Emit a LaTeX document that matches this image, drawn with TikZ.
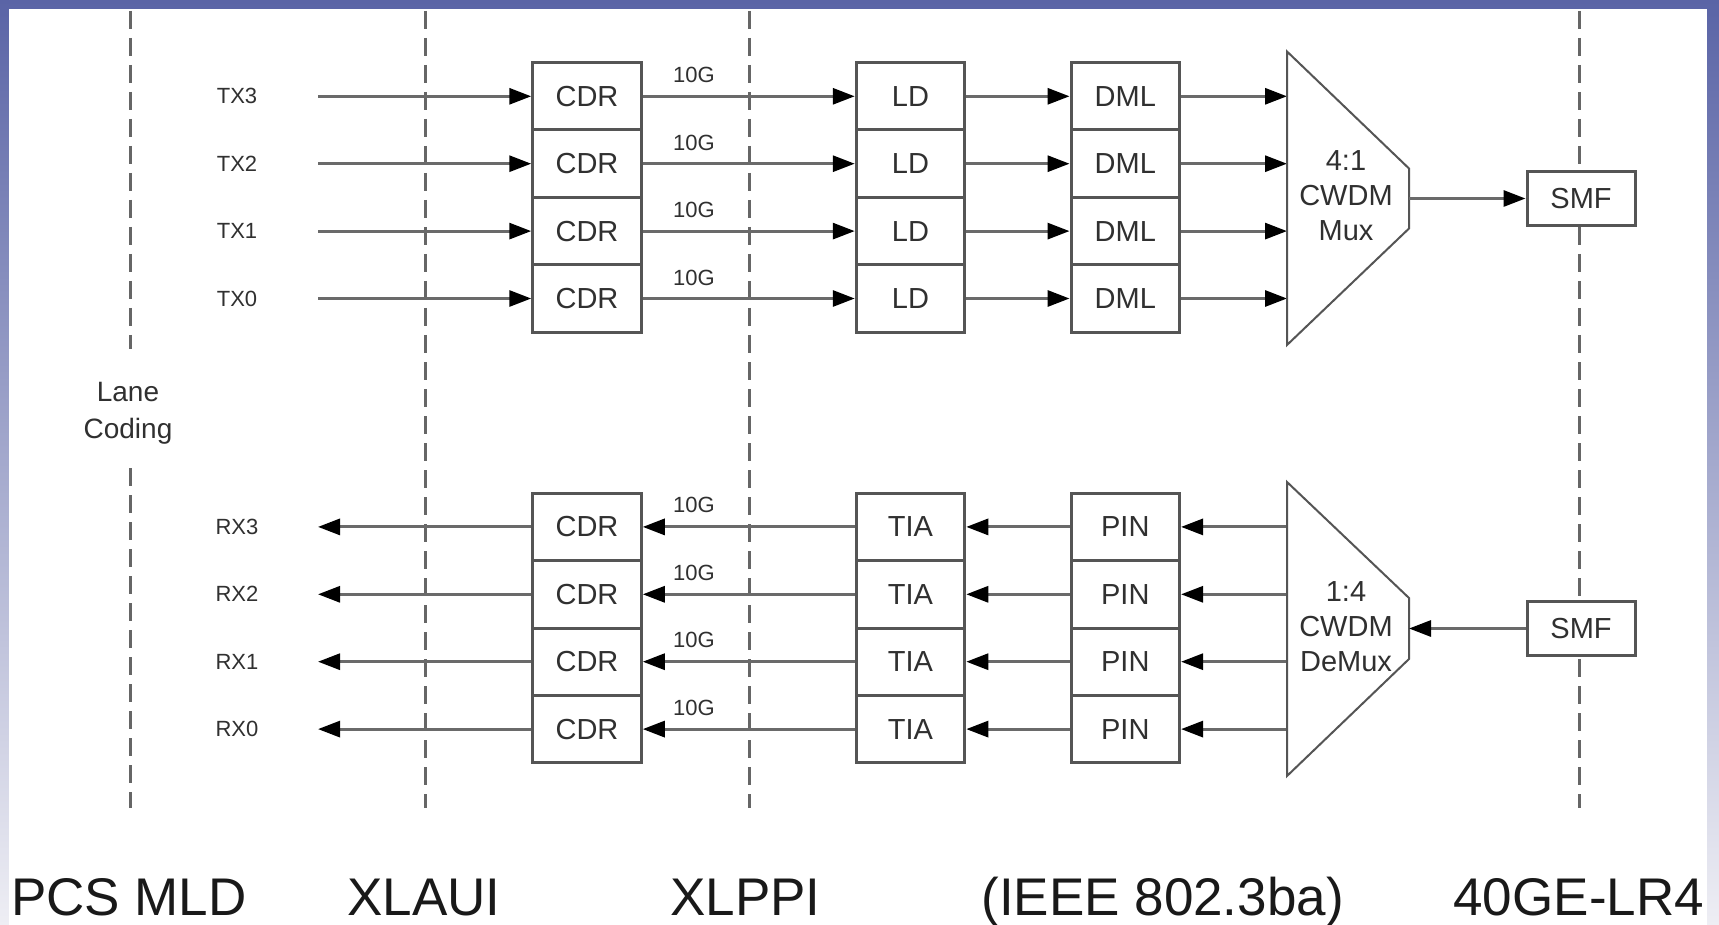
\documentclass[tikz,border=0pt]{standalone}
\usepackage{fontspec}
\setmainfont{Liberation Sans}
\usetikzlibrary{arrows.meta}
\definecolor{bordertop}{HTML}{5A64A6}
\definecolor{borderbot}{HTML}{EEEEF4}
\definecolor{linegray}{HTML}{6A6A6A}
\definecolor{boxgray}{HTML}{555555}
\definecolor{dashgray}{HTML}{666666}
\definecolor{txtgray}{HTML}{303030}
\tikzset{
  blk/.style={draw=boxgray, line width=3pt, minimum width=108.5pt, minimum height=67.4pt,
    inner sep=0pt, font=\fontsize{29}{29}\selectfont, text=txtgray},
  smfbox/.style={draw=boxgray, fill=white, line width=3pt, minimum width=108pt, minimum height=54pt,
    inner sep=0pt, font=\fontsize{29}{29}\selectfont, text=txtgray},
  conn/.style={draw=linegray, line width=3pt, -{Triangle[length=22pt,width=16pt,color=black]}},
  divider/.style={draw=dashgray, line width=3pt, dash pattern=on 18pt off 9pt},
  lanelbl/.style={font=\fontsize{22}{22}\selectfont, text=txtgray, inner sep=0pt},
  ratelbl/.style={font=\fontsize{22}{22}\selectfont, text=txtgray, inner sep=0pt},
  muxlbl/.style={font=\fontsize{29}{35}\selectfont, text=txtgray, align=center, inner sep=0pt},
  muxline/.style={draw=boxgray, line width=2pt, line join=miter},
  bottomlbl/.style={font=\fontsize{53}{53}\selectfont, text=black!90, anchor=base, inner sep=0pt},
}
\begin{document}
\begin{tikzpicture}[x=1pt,y=-1pt]
\shade[top color=bordertop,bottom color=borderbot] (0,0) rectangle (1719,925);
\fill[white] (9,9) rectangle (1707,925);
\useasboundingbox (0,0) rectangle (1719,925);

% dashed dividers
\coordinate (d1a) at (130,11); \coordinate (d1b) at (130,349);
\coordinate (d1c) at (130,468); \coordinate (d1d) at (130,808);
\coordinate (d2a) at (425,11); \coordinate (d2b) at (425,808);
\coordinate (d3a) at (749,11); \coordinate (d3b) at (749,808);
\coordinate (d4a) at (1579,11); \coordinate (d4b) at (1579,808);
\draw[divider] (d1a) -- (d1b);
\draw[divider] (d1c) -- (d1d);
\draw[divider] (d2a) -- (d2b);
\draw[divider] (d3a) -- (d3b);
\draw[divider] (d4a) -- (d4b);

\node[font=\fontsize{28}{37}\selectfont, text=txtgray, align=center, inner sep=0pt] (lane) at (128,413) {Lane\\Coding};

% TX rows
\foreach \i/\y in {3/96.3,2/163.7,1/231.1,0/298.5}{
  \node[lanelbl] (txl\i) at (237,\y) {TX\i};
  \coordinate (txs\i) at (318,\y);
  \node[blk] (cdrt\i) at (587,\y) {CDR};
  \node[blk] (ld\i) at (910.5,\y) {LD};
  \node[blk] (dml\i) at (1125.3,\y) {DML};
  \coordinate (mi\i) at (1287,\y);
  \node[ratelbl] (rt\i) at (694,\y-21) {10G};
  \draw[conn] (txs\i) -- (cdrt\i.west);
  \draw[conn] (cdrt\i.east) -- (ld\i.west);
  \draw[conn] (ld\i.east) -- (dml\i.west);
  \draw[conn] (dml\i.east) -- (mi\i);
}
% RX rows
\foreach \i/\y in {3/526.9,2/594.3,1/661.7,0/729.1}{
  \node[lanelbl] (rxl\i) at (237,\y) {RX\i};
  \coordinate (rxe\i) at (318,\y);
  \node[blk] (cdrr\i) at (587,\y) {CDR};
  \node[blk] (tia\i) at (910.5,\y) {TIA};
  \node[blk] (pin\i) at (1125.3,\y) {PIN};
  \coordinate (do\i) at (1287,\y);
  \node[ratelbl] (rr\i) at (694,\y-21.5) {10G};
  \draw[conn] (cdrr\i.west) -- (rxe\i);
  \draw[conn] (tia\i.west) -- (cdrr\i.east);
  \draw[conn] (pin\i.west) -- (tia\i.east);
  \draw[conn] (do\i) -- (pin\i.east);
}

% Mux
\coordinate (mux1) at (1287,51.5);
\coordinate (mux2) at (1409,168.5);
\coordinate (mux3) at (1409,228.5);
\coordinate (mux4) at (1287,345);
\draw[muxline] (mux1) -- (mux2) -- (mux3) -- (mux4) -- cycle;
\coordinate (muxout) at (1409,198.5);
\node[muxlbl] (muxtext) at (1346,196) {4:1\\CWDM\\Mux};
\node[smfbox] (smf1) at (1581,198.5) {SMF};
\draw[conn] (muxout) -- (smf1.west);

% DeMux
\coordinate (dmx1) at (1287,482);
\coordinate (dmx2) at (1409,598);
\coordinate (dmx3) at (1409,659);
\coordinate (dmx4) at (1287,776);
\draw[muxline] (dmx1) -- (dmx2) -- (dmx3) -- (dmx4) -- cycle;
\coordinate (demuxin) at (1409,628.5);
\node[muxlbl] (demuxtext) at (1346,627) {1:4\\CWDM\\DeMux};
\node[smfbox] (smf2) at (1581,628.5) {SMF};
\draw[conn] (smf2.west) -- (demuxin);

% bottom labels
\node[bottomlbl] (bl1) at (129,915) {PCS MLD};
\node[bottomlbl] (bl2) at (424,915) {XLAUI};
\node[bottomlbl] (bl3) at (745.5,915) {XLPPI};
\node[bottomlbl] (bl4) at (1162.6,915) {(IEEE 802.3ba)};
\node[bottomlbl] (bl5) at (1578.7,915) {40GE-LR4};
\end{tikzpicture}
\end{document}
